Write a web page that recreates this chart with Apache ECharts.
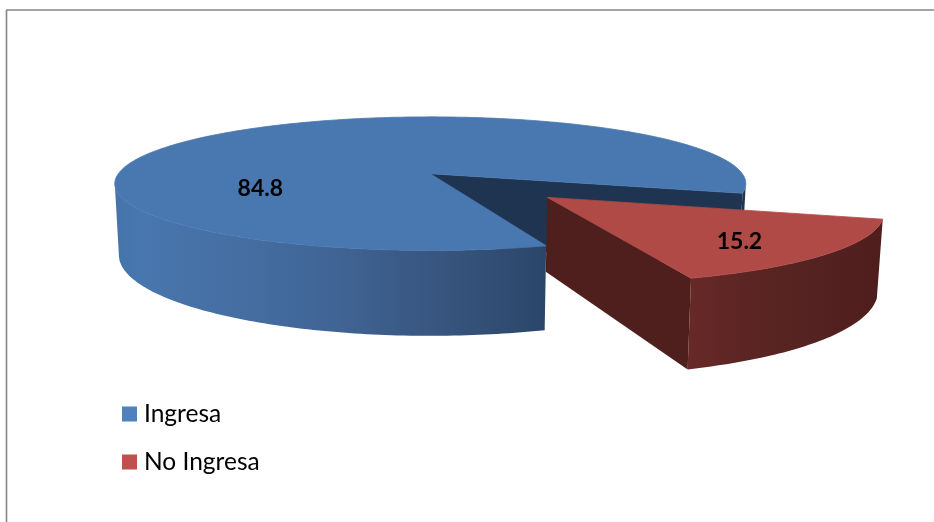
<!DOCTYPE html>
<html>
<head>
<meta charset="utf-8">
<style>html,body{margin:0;padding:0;background:#fff}#c{width:934px;height:522px}</style>
<script src="https://cdn.jsdelivr.net/npm/echarts@6/dist/echarts.min.js"></script>
</head>
<body>
<div id="c"></div>
<script>
const categories = ['Ingresa', 'No Ingresa'];
const values = [84.8, 15.2];
const valueLabels = ['84.8', '15.2'];

// Projection of the tilted pie (a flat disc seen in perspective)
const VIEW = {cx: 430.3, R: 312, p: 0.149, topY: 173.7, topA: 65.3, botY: 243, botA: 79, botScale: 0.987};
const ROTATION = 71.4;       // angle (deg, clockwise from 3 o'clock) where the first slice starts
const EXPLODE = [0, 0.495];  // slice explosion, in radii
const LABEL_AT = [{a: 157, r: 0.572}, {a: 47.8, r: 0.748}];
const STYLE = [
  {legend: '#4f81bd', top: '#4977b0', wall: '#1f3450', hiddenStrip: '#1f3450',
   side: [[0, '#4574ab'], [0.06, '#4876ae'], [0.3, '#456ea2'], [0.55, '#3f6291'], [0.74, '#385680'], [1, '#2b4669']]},
  {legend: '#c0504d', top: '#af4a46', wall: '#4f1f1d', hiddenStrip: '#4f1f1d',
   side: [[0, '#682928'], [0.3, '#5b2524'], [0.6, '#552321'], [1, '#4e1e1c']]}
];

const total = values.reduce((a, b) => a + b, 0);
const rad = d => d * Math.PI / 180;

function project(u, v, low) {
  const s = 1 / (1 - VIEW.p * v);
  return low
    ? [VIEW.cx + VIEW.R * u * s * VIEW.botScale, VIEW.botY + VIEW.botA * v * s]
    : [VIEW.cx + VIEW.R * u * s, VIEW.topY + VIEW.topA * v * s];
}
function arc(o, a, b, low) {
  const n = Math.max(2, Math.ceil(Math.abs(b - a)));
  const pts = [];
  for (let i = 0; i <= n; i++) {
    const t = rad(a + (b - a) * i / n);
    pts.push(project(o[0] + Math.cos(t), o[1] + Math.sin(t), low));
  }
  return pts;
}
function sideWall(o, a, b) {
  return arc(o, a, b, false).concat(arc(o, b, a, true));
}
function poly(points, fill, stroke) {
  const style = {fill};
  if (stroke) { style.stroke = stroke; style.lineWidth = 0.8; style.lineJoin = 'round'; }
  return {type: 'polygon', shape: {points}, style, silent: true};
}
function grad(stops) {
  return new echarts.graphic.LinearGradient(0, 0, 1, 0, stops.map(s => ({offset: s[0], color: s[1]})));
}
function sliceBounds(i) {
  let start = ROTATION;
  for (let k = 0; k < i; k++) start += values[k] / total * 360;
  return [start, start + values[i] / total * 360];
}
const SIL = Math.asin(VIEW.p) * 180 / Math.PI; // silhouette angle of the disc

function renderSlice(params, api) {
  const i = params.seriesIndex;
  const [a0, a1] = sliceBounds(i);
  const st = STYLE[i];
  const mid = rad((a0 + a1) / 2);
  const o = [EXPLODE[i] * Math.cos(mid), EXPLODE[i] * Math.sin(mid)];
  const kids = [];
  const apexT = project(o[0], o[1], false), apexB = project(o[0], o[1], true);
  const wallTo = (ang) => {
    const t = rad(ang);
    const u = o[0] + Math.cos(t), v = o[1] + Math.sin(t);
    return poly([apexT, project(u, v, false), project(u, v, true), apexB], st.wall);
  };
  if (i === 0) {
    // back cut wall seen through the gap, then the outer rim on both sides of it
    kids.push(wallTo(a1));
    kids.push(poly(sideWall(o, SIL, a1 - 360), st.hiddenStrip));
    kids.push(poly(sideWall(o, a0, 180 - SIL), grad(st.side)));
  } else {
    kids.push(poly(sideWall(o, a0, a1), grad(st.side)));
    kids.push(wallTo(a1));
  }
  kids.push(poly([apexT].concat(arc(o, a0, a1, false)), st.top, st.top));
  const lab = LABEL_AT[i], t = rad(lab.a);
  const p = project(o[0] + lab.r * Math.cos(t), o[1] + lab.r * Math.sin(t), false);
  kids.push({type: 'text', x: p[0], y: p[1], silent: true,
    style: {text: valueLabels[i], fill: '#000', font: 'bold 23px Lato', align: 'center', verticalAlign: 'middle'}});
  return {type: 'group', children: kids};
}

const chart = echarts.init(document.getElementById('c'), null, {renderer: 'canvas'});
chart.setOption({
  animation: false,
  backgroundColor: '#ffffff',
  legend: {
    orient: 'vertical', left: 122, top: 401, itemWidth: 15, itemHeight: 15, itemGap: 22,
    icon: 'rect', selectedMode: false, padding: 0,
    textStyle: {color: '#000', fontFamily: 'Lato', fontSize: 24.5, lineHeight: 26, padding: [0, 0, 0, 2]},
    data: categories
  },
  graphic: [
    {type: 'line', shape: {x1: 6, y1: 10, x2: 934, y2: 10}, style: {stroke: '#868686', lineWidth: 1.6}, silent: true},
    {type: 'line', shape: {x1: 6.5, y1: 10, x2: 6.5, y2: 522}, style: {stroke: '#868686', lineWidth: 1.6}, silent: true}
  ],
  series: categories.map((name, i) => ({
    type: 'custom', name, coordinateSystem: 'none', renderItem: renderSlice,
    itemStyle: {color: STYLE[i].legend}, data: [[values[i]]], silent: true
  }))
});
</script>
</body>
</html>
